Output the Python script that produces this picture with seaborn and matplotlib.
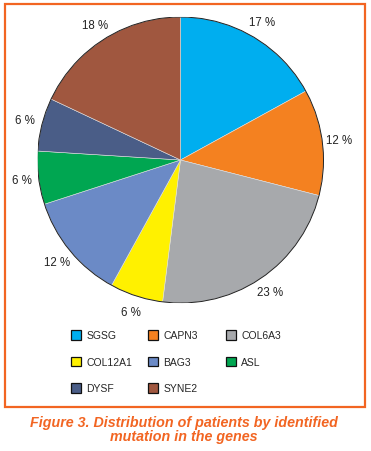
import matplotlib
matplotlib.use("Agg")
import matplotlib.pyplot as plt
from matplotlib.patches import Patch, Rectangle, Circle
import seaborn as sns

# Data
genes = ["SGSG", "CAPN3", "COL6A3", "COL12A1", "BAG3", "ASL", "DYSF", "SYNE2"]
shares = [17, 12, 23, 6, 12, 6, 6, 18]
colors = ["#00AEEF", "#F48120", "#A7A9AC", "#FFF100",
          "#6B8AC6", "#00A651", "#4A5D87", "#A0573F"]
caption = "Figure 3. Distribution of patients by identified\nmutation in the genes"

sns.set_theme(style="white")
plt.rcParams["font.family"] = ["Liberation Sans", "DejaVu Sans"]

W, H = 371, 452
fig = plt.figure(figsize=(W / 100, H / 100), dpi=100)
fig.patch.set_facecolor("white")

# pie axes: centre (180.5, 161) px, radius 143 px
cx, cy, r = 180.5, 161, 143
ax = fig.add_axes([(cx - r) / W, 1 - (cy + r) / H, 2 * r / W, 2 * r / H])
wedges, _, autotexts = ax.pie(
    shares, colors=colors, startangle=90, counterclock=False,
    autopct=lambda p: f"{p:.0f} %", pctdistance=1.12,
    wedgeprops=dict(edgecolor="#e0e0e0", linewidth=0.4),
    textprops=dict(fontsize=8.3, color="#222222"))
ax.add_patch(Circle((0, 0), 1, fill=False, edgecolor="#222222", linewidth=0.7))
ax.set_xlim(-1, 1)
ax.set_ylim(-1, 1)
ax.set_aspect("equal")
ax.axis("off")

# legend, three columns laid out row by row
col_x = [71, 148, 226]
for c, x in enumerate(col_x):
    idx = list(range(c, len(genes), 3))
    handles = [Patch(facecolor=colors[i], edgecolor="#111111", linewidth=0.9) for i in idx]
    fig.legend(handles, [genes[i] for i in idx], loc="upper left",
               bbox_to_anchor=(x / W, 1 - 331 / H), frameon=False,
               fontsize=7.5, handlelength=0.95, handleheight=1.05,
               handletextpad=0.5, labelspacing=1.55, borderpad=0,
               borderaxespad=0)

# orange frame
fig.add_artist(Rectangle((4.5 / W, 1 - 408 / H), 360 / W, 403 / H,
                         transform=fig.transFigure, fill=False,
                         edgecolor="#F26522", linewidth=1.6))

fig.text(184 / W, 1 - 430 / H, caption, ha="center", va="center",
         fontsize=10.3, fontweight="bold", fontstyle="italic", color="#F26522",
         linespacing=0.95)

fig.savefig("out.png", dpi=100)
